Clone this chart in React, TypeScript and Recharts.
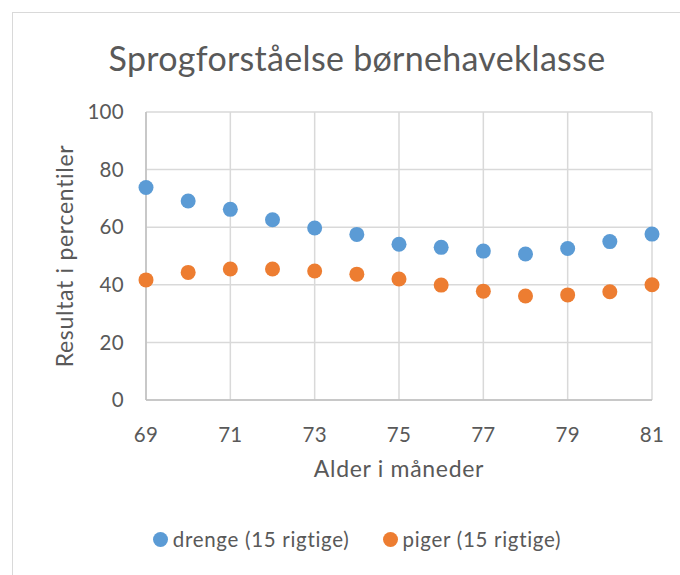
import { ScatterChart, Scatter, XAxis, YAxis, CartesianGrid, Label } from "recharts"

const ages = [69, 70, 71, 72, 73, 74, 75, 76, 77, 78, 79, 80, 81]
const drenge = [73.8, 69.1, 66.2, 62.6, 59.7, 57.5, 54.1, 53.0, 51.7, 50.7, 52.6, 55.0, 57.6]
const piger = [41.7, 44.3, 45.5, 45.5, 44.8, 43.7, 42.0, 39.9, 37.8, 36.1, 36.5, 37.6, 40.0]
const xTicks = [69, 71, 73, 75, 77, 79, 81]
const yTicks = [0, 20, 40, 60, 80, 100]

const BLUE = "#5b9bd5"
const ORANGE = "#ed7d31"
const TEXT = "#595959"
const FONT = "Lato, 'Open Sans', sans-serif"

const boys = ages.map((a, i) => ({ age: a, value: drenge[i] }))
const girls = ages.map((a, i) => ({ age: a, value: piger[i] }))

const series = [
  { name: "drenge (15 rigtige)", color: BLUE },
  { name: "piger (15 rigtige)", color: ORANGE },
]

const dot = (color: string) => (props: any) => (
  <circle cx={props.cx} cy={props.cy} r={7.5} fill={color} />
)

export default function App() {
  return (
    <div style={{ position: "absolute", left: 0, top: 0, width: 680, height: 575, background: "#fff", overflow: "hidden", fontFamily: FONT }}>
      <div style={{ position: "absolute", left: 12, top: 12, width: 680, height: 575, borderTop: "1.5px solid #d9d9d9", borderLeft: "1.5px solid #d9d9d9" }} />
      <div style={{ position: "absolute", top: 37, left: 12, width: 690, textAlign: "center", fontSize: 34, letterSpacing: 0.3, color: TEXT }}>
        Sprogforståelse børnehaveklasse
      </div>
      <div style={{ position: "absolute", left: 0, top: 0 }}>
        <ScatterChart width={680} height={575} margin={{ top: 112, right: 28, bottom: 0, left: 0 }}>
          <CartesianGrid stroke="#d9d9d9" strokeWidth={1.5} />
          <XAxis
            type="number"
            dataKey="age"
            domain={[69, 81]}
            ticks={xTicks}
            height={175}
            tickLine={false}
            axisLine={{ stroke: "#bfbfbf", strokeWidth: 1.5 }}
            tick={{ fill: TEXT, fontSize: 20.5, fontFamily: FONT, letterSpacing: 0.3 }}
            tickMargin={21}
          >
            <Label value="Alder i måneder" position="insideTop" offset={61} fill={TEXT} fontSize={23} fontFamily={FONT} letterSpacing={0.7} />
          </XAxis>
          <YAxis
            type="number"
            dataKey="value"
            domain={[0, 100]}
            ticks={yTicks}
            width={146}
            tickLine={false}
            axisLine={{ stroke: "#bfbfbf", strokeWidth: 1.5 }}
            tick={{ fill: TEXT, fontSize: 20.5, fontFamily: FONT, letterSpacing: 0.3 }}
            tickMargin={16}
          >
            <Label
              content={(p: any) => {
                const vb = p.viewBox
                const cy = vb.y + vb.height / 2
                return (
                  <text x={64} y={cy} transform={`rotate(-90, 64, ${cy})`} textAnchor="middle" dominantBaseline="central" fill={TEXT} fontSize={23} fontFamily={FONT} letterSpacing={0.7}>
                    Resultat i percentiler
                  </text>
                )
              }}
            />
          </YAxis>
          <Scatter name={series[0].name} data={boys} fill={BLUE} shape={dot(BLUE)} isAnimationActive={false} />
          <Scatter name={series[1].name} data={girls} fill={ORANGE} shape={dot(ORANGE)} isAnimationActive={false} />
        </ScatterChart>
      </div>
      <div style={{ position: "absolute", top: 527, left: 12, width: 690, display: "flex", justifyContent: "center", gap: 33, fontSize: 20.5, letterSpacing: 0.7, color: TEXT }}>
        {series.map((s) => (
          <div key={s.name} style={{ display: "flex", alignItems: "center" }}>
            <span style={{ width: 15, height: 15, borderRadius: "50%", background: s.color, marginRight: 5 }} />
            <span>{s.name}</span>
          </div>
        ))}
      </div>
    </div>
  )
}
